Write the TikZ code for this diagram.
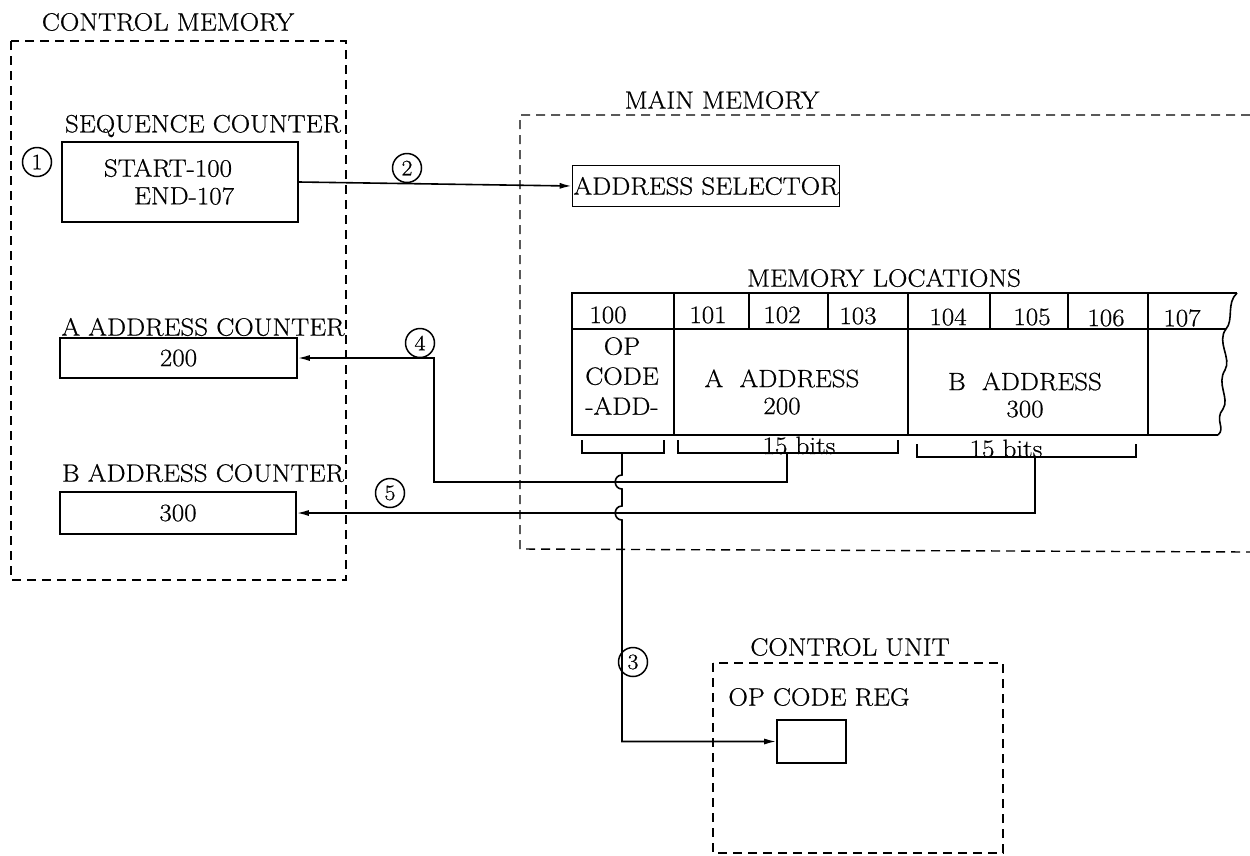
\documentclass[tikz,border=0pt]{standalone}
\usepackage{fontspec}
\setmainfont{Latin Modern Roman}[FakeStretch=1.08, FakeBold=0.6]
\usetikzlibrary{arrows.meta}
\begin{document}
\begin{tikzpicture}[x=1pt,y=-1pt,
  every node/.style={font=\fontsize{25}{30}\selectfont, inner sep=0pt},
  line/.style={line width=1.6pt},
  frame/.style={line width=1.4pt, dash pattern=on 9pt off 6pt},
  box/.style={draw, line width=1.6pt, inner sep=0pt},
  num/.style={draw, circle, line width=1.5pt, minimum size=29pt, font=\fontsize{22}{22}\selectfont},
  arr/.style={line, -{Latex[length=12pt,width=6pt]}},
]
\useasboundingbox (0,0) rectangle (1250,855);

% Control memory
\draw[frame] (11,41) rectangle (346,580);
\node (cmt) at (168,22) {CONTROL MEMORY};
\node[num] (c1) at (37,162) {1};
\node (sql) at (203,126) {SEQUENCE COUNTER};
\node[box, minimum width=236pt, minimum height=80pt] (seq) at (180,182) {};
\node (st) at (168,168) {START-100};
\node (en) at (184,196) {END-107};
\node (aal) at (203,327) {A ADDRESS COUNTER};
\node[box, minimum width=237pt, minimum height=40pt] (aac) at (178.5,358) {200};
\node (bal) at (203,473) {B ADDRESS COUNTER};
\node[box, minimum width=236pt, minimum height=42pt] (bac) at (178,513) {300};

% Main memory
\draw[frame] (1250,115) -- (520,115) -- (520,549) -- (1250,552);
\node (mmt) at (722,100) {MAIN MEMORY};
\node[box, minimum width=267pt, minimum height=41pt] (asel) at (706,186) {ADDRESS SELECTOR};
\draw[arr] (seq.east) -- (asel.west);
\node[num] (c2) at (407,168) {2};

\node (mlt) at (884,278) {MEMORY LOCATIONS};
\draw[line] (1237,293) -- (572,293) -- (572,435) -- (1218,435);
\draw[line] (572,329) -- (1226,329);
\foreach \x in {749,828,990,1068} \draw[line] (\x,293) -- (\x,329);
\foreach \x in {674,908,1148} \draw[line] (\x,293) -- (\x,435);
\draw[line] (1237,293) .. controls (1226,303) and (1234,320) .. (1226,329)
  .. controls (1216,342) and (1232,358) .. (1225,370)
  .. controls (1216,384) and (1230,398) .. (1223,409)
  .. controls (1214,420) and (1226,428) .. (1218,435);
\node (h100) at (608,315) {100};
\node (h101) at (708,315) {101};
\node (h102) at (782,315) {102};
\node (h103) at (858,316) {103};
\node (h104) at (948,317) {104};
\node (h105) at (1032,317) {105};
\node (h106) at (1106,318) {106};
\node (h107) at (1182,318) {107};
\node[align=center, font=\fontsize{25}{30}\selectfont] (opc) at (622,376) {OP\\CODE\\-ADD-};
\node[align=center, font=\fontsize{25}{27}\selectfont] (aad) at (782,392) {A\ \ ADDRESS\\200};
\node[align=center, font=\fontsize{25}{27}\selectfont] (bad) at (1025,395) {B\ \ ADDRESS\\300};

% brackets
\draw[line] (582,440) -- (582,453) -- (664,453) -- (664,440);
\draw[line] (678,440) -- (678,453) -- (898,453) -- (898,440);
\draw[line] (917,444) -- (917,457) -- (1136,457) -- (1136,444);
\coordinate (b1) at (622,453);
\coordinate (b2) at (787,453);
\coordinate (b3) at (1035,457);
\node[anchor=base] (bits1) at (799,454) {15 bits};
\node[anchor=base] (bits2) at (1006,457) {15 bits};

% connectors
\draw[arr] (b2) |- (434,482) |- (aac.east);
\node[num] (c4) at (420,343) {4};
\draw[arr] (b3) |- (bac.east);
\node[num] (c5) at (390,493) {5};

% Control unit
\draw[frame] (713,663) rectangle (1003,853);
\node (cut) at (850,647) {CONTROL UNIT};
\node (ocl) at (819,697) {OP CODE REG};
\node[box, minimum width=69pt, minimum height=43pt] (ocr) at (811.5,741.5) {};
\draw[arr] (b1) -- (622,475) .. controls (613,475) and (613,489) .. (622,489)
  -- (622,506) .. controls (613,506) and (613,520) .. (622,520)
  -- (b1 |- ocr.west) -- (ocr.west);
\node[num] (c3) at (633,662) {3};
\end{tikzpicture}
\end{document}
